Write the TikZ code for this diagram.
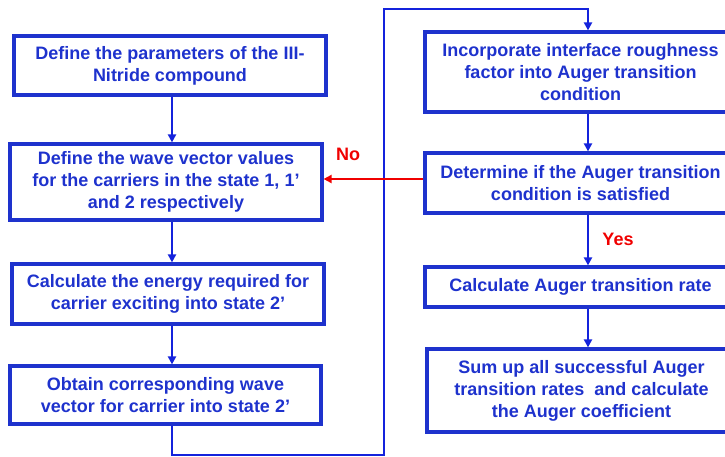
\documentclass[tikz,border=0pt]{standalone}
\usepackage{fontspec}
\setmainfont{Liberation Sans}
\usetikzlibrary{arrows.meta}
\definecolor{boxblue}{RGB}{30,50,205}
\definecolor{lineblue}{RGB}{20,35,220}
\definecolor{noRed}{RGB}{240,0,0}
\tikzset{
  x=1pt,y=-1pt,
  stepbox/.style={draw=boxblue,line width=3.2pt,text=boxblue,font=\fontsize{18}{22}\selectfont\bfseries,align=center,inner sep=1pt,anchor=center},
  conn/.style={draw=lineblue,line width=2.4pt,-{Triangle[length=8pt,width=8pt]}},
  redconn/.style={draw=noRed,line width=2.4pt,-{Triangle[length=8pt,width=8pt]}},
  lbl/.style={text=noRed,font=\fontsize{18}{20}\selectfont\bfseries}
}
\begin{document}
\begin{tikzpicture}
\useasboundingbox (0,0) rectangle (725,457);
\node[stepbox,minimum width=312pt,minimum height=59pt] (b1) at (170,65.5) {Define the parameters of the III-\\Nitride compound};
\node[stepbox,minimum width=312pt,minimum height=76pt] (b2) at (166,182) {Define the wave vector values\\for the carriers in the state 1, 1’\\and 2 respectively};
\node[stepbox,minimum width=312pt,minimum height=60pt] (b3) at (168,294) {Calculate the energy required for\\carrier exciting into state 2’};
\node[stepbox,minimum width=311pt,minimum height=58pt] (b4) at (165.5,395) {Obtain corresponding wave\\vector for carrier into state 2’};
\node[stepbox,minimum width=311pt,minimum height=80pt] (b5) at (580.5,72) {Incorporate interface roughness\\factor into Auger transition\\condition};
\node[stepbox,minimum width=311pt,minimum height=60pt] (b6) at (580.5,183) {Determine if the Auger transition\\condition is satisfied};
\node[stepbox,minimum width=311pt,minimum height=40pt] (b7) at (580.5,287) {Calculate Auger transition rate};
\node[stepbox,minimum width=309pt,minimum height=83pt] (b8) at (581.5,390.5) {Sum up all successful Auger\\transition rates\ \ and calculate\\the Auger coefficient};
\coordinate (lx) at (172,0);
\coordinate (rx) at (588,0);
\coordinate (c1) at (384,455);
\coordinate (c2) at (384,9);
\draw[conn] (b1.south -| lx) -- (b2.north -| lx);
\draw[conn] (b2.south -| lx) -- (b3.north -| lx);
\draw[conn] (b3.south -| lx) -- (b4.north -| lx);
\draw[conn] (b4.south -| lx) |- (c1) -- (c2) -| (b5.north -| rx);
\draw[conn] (b5.south -| rx) -- (b6.north -| rx);
\draw[conn] (b6.south -| rx) -- (b7.north -| rx);
\draw[conn] (b7.south -| rx) -- (b8.north -| rx);
\node[lbl] (yes) at (618,239) {Yes};
\coordinate (ry) at (0,179);
\draw[redconn] (b6.west |- ry) -- (b2.east |- ry);
\node[lbl] (no) at (348,154) {No};
\end{tikzpicture}
\end{document}
